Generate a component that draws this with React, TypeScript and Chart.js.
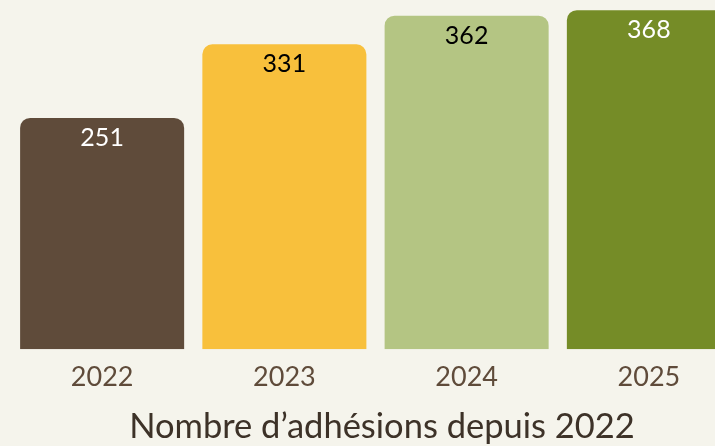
import React, { useEffect, useRef } from "react";
import { Chart, registerables } from "chart.js";

Chart.register(...registerables);

const categories = ["2022", "2023", "2024", "2025"];
const values = [251, 331, 362, 368];
const barColors = ["#5f4b3a", "#f8c03c", "#b4c583", "#758c27"];
const labelColors = ["#ffffff", "#000000", "#000000", "#ffffff"];
const titleText = "Nombre d\u2019adhésions depuis 2022";

const FONT = "Lato, 'Open Sans', sans-serif";

const valueLabels = {
  id: "valueLabels",
  afterDatasetsDraw(chart: any) {
    const ctx = chart.ctx;
    const meta = chart.getDatasetMeta(0);
    ctx.save();
    ctx.font = `25px ${FONT}`;
    ctx.textAlign = "center";
    ctx.textBaseline = "middle";
    meta.data.forEach((el: any, i: number) => {
      ctx.fillStyle = labelColors[i];
      ctx.fillText(String(values[i]), el.x, el.y + 20);
    });
    ctx.restore();
  },
};

export default function App() {
  const ref = useRef<HTMLCanvasElement>(null);
  useEffect(() => {
    const chart = new Chart(ref.current!, {
      type: "bar",
      data: {
        labels: categories,
        datasets: [
          {
            data: values,
            backgroundColor: barColors,
            borderRadius: { topLeft: 10, topRight: 10, bottomLeft: 0, bottomRight: 0 },
            borderSkipped: false,
            categoryPercentage: 1,
            barPercentage: 0.9,
            yAxisID: "y",
          },
        ],
      },
      options: {
        animation: false,
        responsive: false,
        maintainAspectRatio: false,
        layout: { padding: 0 },
        plugins: {
          legend: { display: false },
          tooltip: { enabled: false },
          title: {
            display: true,
            position: "bottom",
            text: titleText,
            color: "#3d3228",
            font: { family: FONT, size: 34.5, weight: "normal" },
            padding: { top: 1, bottom: -2 },
          },
        },
        scales: {
          x: {
            grid: { display: false, drawTicks: false },
            border: { display: false },
            ticks: {
              color: "#5f4b3a",
              font: { family: FONT, size: 27 },
              padding: 12,
            },
          },
          y: {
            position: "left",
            min: 0,
            max: 379,
            grid: { display: false, drawTicks: false },
            border: { display: false },
            ticks: { display: false },
            afterFit: (s: any) => {
              s.width = 11;
            },
          },
          y2: {
            position: "right",
            min: 0,
            max: 379,
            grid: { display: false, drawTicks: false },
            border: { display: false },
            ticks: { display: false },
            afterFit: (s: any) => {
              s.width = 24;
            },
          },
        },
      },
      plugins: [valueLabels],
    });
    return () => chart.destroy();
  }, []);
  return (
    <div
      style={{
        position: "fixed",
        left: 0,
        top: 0,
        width: 715,
        height: 446,
        overflow: "hidden",
        background: "#f5f4ec",
      }}
    >
      <canvas ref={ref} width={764} height={446} style={{ display: "block" }} />
    </div>
  );
}
